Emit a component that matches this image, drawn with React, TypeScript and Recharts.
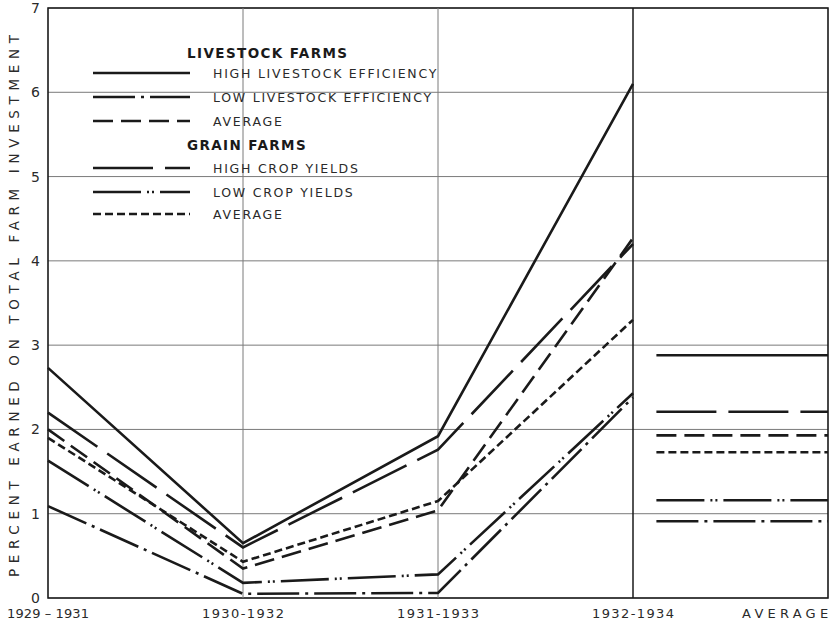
import React from 'react';
import { LineChart, Line, XAxis, YAxis, CartesianGrid, ReferenceLine, ReferenceArea } from 'recharts';

// period labels along the bottom
const periods = ['1929 – 1931', '1930-1932', '1931-1933', '1932-1934'];
const averageLabel = 'AVERAGE';
const yTicks = [0, 1, 2, 3, 4, 5, 6, 7];

// percent earned, one value per period
const highLivestock = [2.73, 0.65, 1.92, 6.1];
const lowLivestock = [1.09, 0.05, 0.06, 2.38];
const avgLivestock = [2.0, 0.35, 1.04, 4.27];
const highCrop = [2.2, 0.6, 1.76, 4.2];
const lowCrop = [1.63, 0.18, 0.28, 2.43];
const avgGrain = [1.9, 0.43, 1.15, 3.3];

// whole-period averages (right panel)
const avgHighLivestock = 2.88;
const avgLowLivestock = 0.91;
const avgAvgLivestock = 1.93;
const avgHighCrop = 2.21;
const avgLowCrop = 1.16;
const avgAvgGrain = 1.73;

const AVG_START = 3.12;
const AVG_END = 4;
const AVG_TICK = 3.78;

const FONT = '"DejaVu Sans", sans-serif';
const INK = '#1a1a1a';
const TEXT = '#2a2a2a';

const series = [
  { key: 'highLivestock', name: 'HIGH LIVESTOCK EFFICIENCY', values: highLivestock, avg: avgHighLivestock, dash: undefined },
  { key: 'lowLivestock', name: 'LOW LIVESTOCK EFFICIENCY', values: lowLivestock, avg: avgLowLivestock, dash: '42 6 3 6' },
  { key: 'avgLivestock', name: 'AVERAGE', values: avgLivestock, avg: avgAvgLivestock, dash: '20 8' },
  { key: 'highCrop', name: 'HIGH CROP YIELDS', values: highCrop, avg: avgHighCrop, dash: '60 12' },
  { key: 'lowCrop', name: 'LOW CROP YIELDS', values: lowCrop, avg: avgLowCrop, dash: '48 6 2 3 2 6' },
  { key: 'avgGrain', name: 'AVERAGE', values: avgGrain, avg: avgAvgGrain, dash: '8 4' },
];

const data = periods.map((p, i) => {
  const row: Record<string, number | string> = { x: i, period: p };
  series.forEach(s => { row[s.key] = s.values[i]; });
  return row;
});

const tickLabels = [...periods, averageLabel];

// bottom labels, stretched to the width they have in the original
const PeriodTick = (props: any) => {
  const { x, y, index } = props;
  return (
    <text
      x={x}
      y={y + 12}
      textAnchor="middle"
      fontFamily={FONT}
      fontSize={13}
      fill={TEXT}
      textLength={index === 4 ? 86 : 82}
      lengthAdjust="spacing"
    >
      {tickLabels[index]}
    </text>
  );
};

function LegendBlock() {
  const rowY = [73, 97, 121, 168, 192, 214];
  return (
    <svg width={470} height={230} style={{ position: 'absolute', left: 0, top: 0 }}>
      <text x={187} y={58} fontFamily={FONT} fontSize={13.5} fontWeight="bold" fill={INK} letterSpacing={1.4}>LIVESTOCK FARMS</text>
      <text x={187} y={150} fontFamily={FONT} fontSize={13.5} fontWeight="bold" fill={INK} letterSpacing={1.4}>GRAIN FARMS</text>
      {series.map((s, i) => (
        <g key={s.key}>
          <line x1={93} x2={190} y1={rowY[i]} y2={rowY[i]} stroke={INK} strokeWidth={2.6} strokeDasharray={s.dash} />
          <text x={213} y={rowY[i] + 5} fontFamily={FONT} fontSize={12.5} fill={TEXT} letterSpacing={1.75}>{s.name}</text>
        </g>
      ))}
    </svg>
  );
}

export default function App() {
  return (
    <div style={{ position: 'absolute', left: 0, top: 0, width: 834, height: 626, background: '#fff' }}>
      <LineChart width={834} height={626} data={data} margin={{ top: 8, right: 6, bottom: 0, left: 0 }}>
        <CartesianGrid vertical={false} stroke="#7a7a7a" strokeWidth={1} />
        <XAxis
          dataKey="x"
          type="number"
          domain={[0, 4]}
          ticks={[0, 1, 2, 3, AVG_TICK]}
          axisLine={false}
          tickLine={false}
          height={28}
          interval={0}
          tick={<PeriodTick />}
        />
        <YAxis
          type="number"
          domain={[0, 7]}
          ticks={yTicks}
          axisLine={false}
          tickLine={false}
          width={48}
          interval={0}
          tick={{ fontSize: 14, fontFamily: FONT, fill: TEXT }}
          label={{
            content: () => (
              <text
                x={14}
                y={306}
                transform="rotate(-90 14 306)"
                textAnchor="middle"
                dominantBaseline="central"
                fontFamily={FONT}
                fontSize={13.5}
                fill={TEXT}
                textLength={542}
                lengthAdjust="spacing"
              >
                PERCENT EARNED ON TOTAL FARM INVESTMENT
              </text>
            ),
          }}
        />
        <ReferenceLine x={1} stroke="#7a7a7a" strokeWidth={1} />
        <ReferenceLine x={2} stroke="#7a7a7a" strokeWidth={1} />
        <ReferenceLine x={3} stroke={INK} strokeWidth={1.5} />
        <ReferenceArea x1={0} x2={4} y1={0} y2={7} fill="none" stroke={INK} strokeWidth={1.6} ifOverflow="visible" />
        {series.map(s => (
          <Line
            key={s.key}
            dataKey={s.key}
            stroke={INK}
            strokeWidth={2.6}
            strokeDasharray={s.dash}
            dot={false}
            activeDot={false}
            isAnimationActive={false}
            type="linear"
          />
        ))}
        {series.map(s => (
          <Line
            key={s.key + '-avg'}
            data={[{ x: AVG_START, v: s.avg }, { x: AVG_END, v: s.avg }]}
            dataKey="v"
            stroke={INK}
            strokeWidth={2.6}
            strokeDasharray={s.dash}
            dot={false}
            activeDot={false}
            isAnimationActive={false}
            type="linear"
          />
        ))}
      </LineChart>
      <LegendBlock />
    </div>
  );
}
